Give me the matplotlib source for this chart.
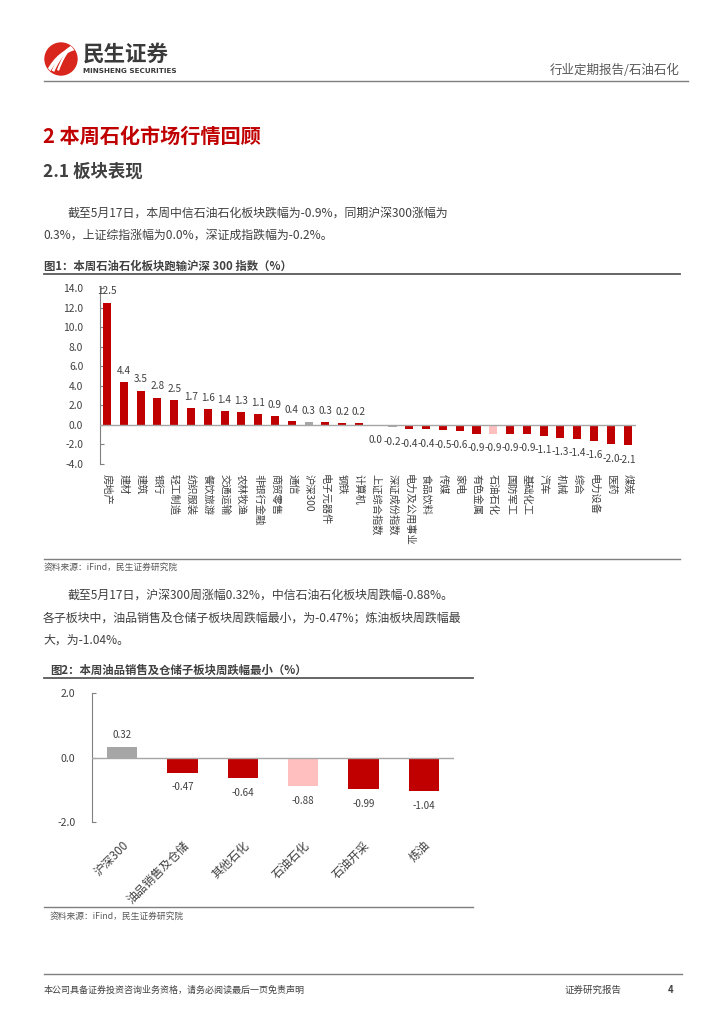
import numpy as np
import matplotlib.pyplot as plt
from matplotlib.patches import Circle, PathPatch
from matplotlib.path import Path

plt.rcParams['font.family'] = ['Noto Sans CJK SC', 'DejaVu Sans']

# Figure 1 data
sectors = ['房地产', '建材', '建筑', '银行', '轻工制造', '纺织服装', '餐饮旅游', '交通运输',
           '农林牧渔', '非银行金融', '商贸零售', '通信', '沪深300', '电子元器件', '钢铁', '计算机',
           '上证综合指数', '深证成份指数', '电力及公用事业', '食品饮料', '传媒', '家电', '有色金属',
           '石油石化', '国防军工', '基础化工', '汽车', '机械', '综合', '电力设备', '医药', '煤炭']
sector_chg = [12.5, 4.4, 3.5, 2.8, 2.5, 1.7, 1.6, 1.4, 1.3, 1.1, 0.9, 0.4, 0.3, 0.3, 0.2, 0.2,
              0.0, -0.2, -0.4, -0.4, -0.5, -0.6, -0.9, -0.9, -0.9, -0.9, -1.1, -1.3, -1.4, -1.6,
              -2.0, -2.1]
y1_ticks = [-4.0, -2.0, 0.0, 2.0, 4.0, 6.0, 8.0, 10.0, 12.0, 14.0]

# Figure 2 data
subsectors = ['沪深300', '油品销售及仓储', '其他石化', '石油石化', '石油开采', '炼油']
sub_chg = [0.32, -0.47, -0.64, -0.88, -0.99, -1.04]
y2_ticks = [-2.0, 0.0, 2.0]

RED = '#C00000'
GRAY = '#A6A6A6'
PINK = '#FFBFBF'
TXT = '#404040'

W, H = 724, 1024
fig = plt.figure(figsize=(W / 100, H / 100), dpi=100)


def px(x, y):
    return x / W, 1 - y / H


def ftext(x, y, s, **kw):
    fx, fy = px(x, y)
    kw.setdefault('va', 'center')
    kw.setdefault('color', TXT)
    fig.text(fx, fy, s, **kw)


def hline(x0, x1, y, lw=1.0, color='#7F7F7F'):
    fx0, fy = px(x0, y)
    fx1, _ = px(x1, y)
    fig.add_artist(plt.Line2D([fx0, fx1], [fy, fy], color=color, lw=lw))


def bar_color(name):
    if name in ('沪深300', '深证成份指数', '上证综合指数'):
        return GRAY
    if name == '石油石化':
        return PINK
    return RED


# header / logo
lax = fig.add_axes([0, 0, 1, 1], zorder=-1)
lax.set_xlim(0, W)
lax.set_ylim(H, 0)
lax.set_aspect('equal')
lax.axis('off')
circ = Circle((61, 59), 16, color='#D9261C')
lax.add_patch(circ)
for k, (a, b) in enumerate([(0, 0), (5, 4), (10, 8)]):
    verts = [(48 + a, 72 - b * 0.2), (55 + a, 58 - b), (66 + a, 50 - b), (76, 48 - b * 0.6)]
    p = PathPatch(Path(verts, [Path.MOVETO, Path.CURVE4, Path.CURVE4, Path.CURVE4]),
                  fill=False, ec='white', lw=2.6 - k * 0.5)
    p.set_clip_path(circ)
    lax.add_patch(p)
ftext(83, 54, '民生证券', fontsize=15.5, fontweight='bold', color='#3A3A3A')
ftext(83, 71, 'MINSHENG SECURITIES', fontsize=5.2, fontweight='bold', color='#3A3A3A',
      family=['DejaVu Sans'])
ftext(680, 70, '行业定期报告/石油石化', fontsize=9, ha='right', color='#595959')
hline(44, 688, 81, lw=1.0)

ftext(43, 136, '2 本周石化市场行情回顾', fontsize=14.5, fontweight='bold', color=RED)
ftext(43, 172, '2.1 板块表现', fontsize=12.5, fontweight='bold', color='#404040')
ftext(68, 213, '截至5月17日，本周中信石油石化板块跌幅为-0.9%，同期沪深300涨幅为', fontsize=8.6)
ftext(43, 235, '0.3%，上证综指涨幅为0.0%，深证成指跌幅为-0.2%。', fontsize=8.6)

ftext(44, 266, '图1：本周石油石化板块跑输沪深 300 指数（%）', fontsize=8.2, fontweight='bold')
hline(44, 680, 274, lw=1.3, color='#595959')

# chart 1
ax1 = fig.add_axes([100 / W, 1 - 464 / H, 536 / W, 176 / H])
x1 = np.arange(len(sectors))
ax1.bar(x1, sector_chg, width=0.48, color=[bar_color(s) for s in sectors], zorder=2)
ax1.axhline(0, color='#A6A6A6', lw=1.0, zorder=3)
ax1.set_xlim(-0.42, len(sectors) - 0.5)
ax1.set_ylim(-4, 14)
ax1.set_yticks(y1_ticks)
ax1.set_yticklabels([f'{v:.1f}' for v in y1_ticks])
ax1.tick_params(axis='y', direction='in', length=3, color='#808080', labelsize=7.4,
                labelcolor=TXT, pad=12)
for s in ['top', 'right', 'bottom']:
    ax1.spines[s].set_visible(False)
ax1.spines['left'].set_color('#808080')
ax1.set_xticks(x1)
ax1.set_xticklabels(sectors, rotation=-90, fontsize=7.4, color=TXT, va='top', ha='center')
ax1.tick_params(axis='x', length=0, pad=7)
for xi, v in zip(x1, sector_chg):
    if v > 0:
        ax1.annotate(f'{v:.1f}', (xi, v), xytext=(0, 4.5), textcoords='offset points',
                     ha='center', va='bottom', fontsize=7.2, color=TXT)
    else:
        ax1.annotate(f'{v:.1f}', (xi, v), xytext=(0, -7), textcoords='offset points',
                     ha='center', va='top', fontsize=7.2, color=TXT)

hline(44, 680, 559, lw=1.0, color='#7F7F7F')
ftext(44, 567, '资料来源：iFind，民生证券研究院', fontsize=6.3, color='#595959')

ftext(68, 595, '截至5月17日，沪深300周涨幅0.32%，中信石油石化板块周跌幅-0.88%。', fontsize=8.6)
ftext(43, 618, '各子板块中，油品销售及仓储子板块周跌幅最小，为-0.47%；炼油板块周跌幅最', fontsize=8.6)
ftext(43, 640, '大，为-1.04%。', fontsize=8.6)

ftext(50, 670, '图2：本周油品销售及仓储子板块周跌幅最小（%）', fontsize=8.2, fontweight='bold')
hline(44, 473, 678, lw=1.3, color='#595959')

# chart 2
ax2 = fig.add_axes([92 / W, 1 - 822 / H, 362 / W, 129 / H])
x2 = np.arange(len(subsectors))
ax2.bar(x2, sub_chg, width=0.5, color=[bar_color(s) for s in subsectors], zorder=2)
ax2.axhline(0, color='#A6A6A6', lw=1.0, zorder=3)
ax2.set_xlim(-0.5, len(subsectors) - 0.5)
ax2.set_ylim(-2, 2)
ax2.set_yticks(y2_ticks)
ax2.set_yticklabels([f'{v:.1f}' for v in y2_ticks])
ax2.tick_params(axis='y', direction='in', length=3, color='#808080', labelsize=7.6,
                labelcolor=TXT, pad=12)
for s in ['top', 'right', 'bottom']:
    ax2.spines[s].set_visible(False)
ax2.spines['left'].set_color('#808080')
ax2.set_xticks(x2)
ax2.set_xticklabels(subsectors, rotation=45, fontsize=8.5, color=TXT, ha='right', va='top',
                    rotation_mode='anchor')
ax2.tick_params(axis='x', length=0, pad=12)
for xi, v in zip(x2, sub_chg):
    if v >= 0:
        ax2.annotate(f'{v:.2f}', (xi, v), xytext=(0, 5), textcoords='offset points',
                     ha='center', va='bottom', fontsize=7, color=TXT)
    else:
        ax2.annotate(f'{v:.2f}', (xi, v), xytext=(0, -7), textcoords='offset points',
                     ha='center', va='top', fontsize=7, color=TXT)

hline(44, 473, 907, lw=1.0, color='#7F7F7F')
ftext(50, 916, '资料来源：iFind，民生证券研究院', fontsize=6.3, color='#595959')

# footer
hline(44, 682, 974, lw=1.0, color='#7F7F7F')
ftext(44, 990, '本公司具备证券投资咨询业务资格，请务必阅读最后一页免责声明', fontsize=6.5, color='#404040')
ftext(565, 990, '证券研究报告', fontsize=6.8, color='#404040')
ftext(668, 990, '4', fontsize=6.8, fontweight='bold', color='#404040')

fig.savefig('out.png', dpi=100)
